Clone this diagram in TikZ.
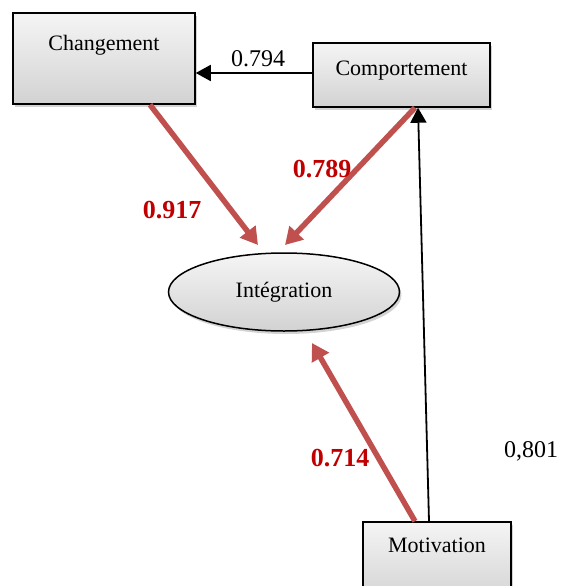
\documentclass[tikz,border=0pt]{standalone}
\usepackage{fontspec}
\setmainfont{Liberation Serif}
\usetikzlibrary{arrows.meta,shapes.geometric,shadows}
\definecolor{pathred}{HTML}{C0504D}
\definecolor{valred}{HTML}{C00000}

\begin{document}
\begin{tikzpicture}[x=1pt, y=-1pt,
    varbox/.style={rectangle, draw, line width=1.5pt, top color=gray!8, bottom color=gray!35,
      drop shadow={shadow xshift=2pt, shadow yshift=-3pt, opacity=0.35},
      inner xsep=0pt, inner ysep=0pt, font=\fontsize{22}{26}\selectfont},
    latent/.style={ellipse, draw, line width=1.5pt, top color=gray!8, bottom color=gray!35,
      drop shadow={shadow xshift=2pt, shadow yshift=-3pt, opacity=0.35},
      minimum width=231pt, minimum height=78pt, font=\fontsize{22}{26}\selectfont},
    redpath/.style={draw=pathred, line width=5.5pt, -{Triangle[length=17pt,width=19pt]}, pathred},
    blackpath/.style={draw, line width=1.8pt, -{Triangle[length=15pt,width=16pt]}},
    coef/.style={font=\fontsize{24}{28}\selectfont},
    redcoef/.style={text=valred, font=\fontsize{26}{30}\selectfont\bfseries}]
  \useasboundingbox (0,0) rectangle (562,586);

  % variables
  \node[varbox, minimum width=182pt, text height=38pt, text depth=53pt] (chg) at (104,58.5) {Changement};
  \node[varbox, minimum width=177pt, text height=32pt, text depth=32pt] (comp) at (401.5,75) {Comportement};
  \node[varbox, minimum width=148pt, text height=30pt, text depth=50pt] (motiv) at (437,562) {Motivation};
  \node[latent] (integ) at (284,292) {Intégration};

  % tips of the red arrows
  \coordinate (t1) at (258,245);
  \coordinate (t2) at (285,245);
  \coordinate (t3) at (312,343);

  % paths
  \draw[blackpath] ([yshift=2pt]comp.west) -- ([yshift=2pt]comp.west -| chg.east);
  \draw[blackpath] ([xshift=-8pt]motiv.north) -- ([xshift=16.5pt]comp.south);
  \draw[redpath] ([xshift=46pt]chg.south) -- (t1);
  \draw[redpath] ([xshift=13.5pt]comp.south) -- (t2);
  \draw[redpath] ([xshift=-22pt]motiv.north) -- (t3);

  % coefficients
  \node[coef] (c794) at (258,59) {0.794};
  \node[coef] (c801) at (531,451) {0,801};
  \node[redcoef] (c917) at (172,210) {0.917};
  \node[redcoef] (c789) at (322,169) {0.789};
  \node[redcoef] (c714) at (340,458) {0.714};
\end{tikzpicture}
\end{document}
